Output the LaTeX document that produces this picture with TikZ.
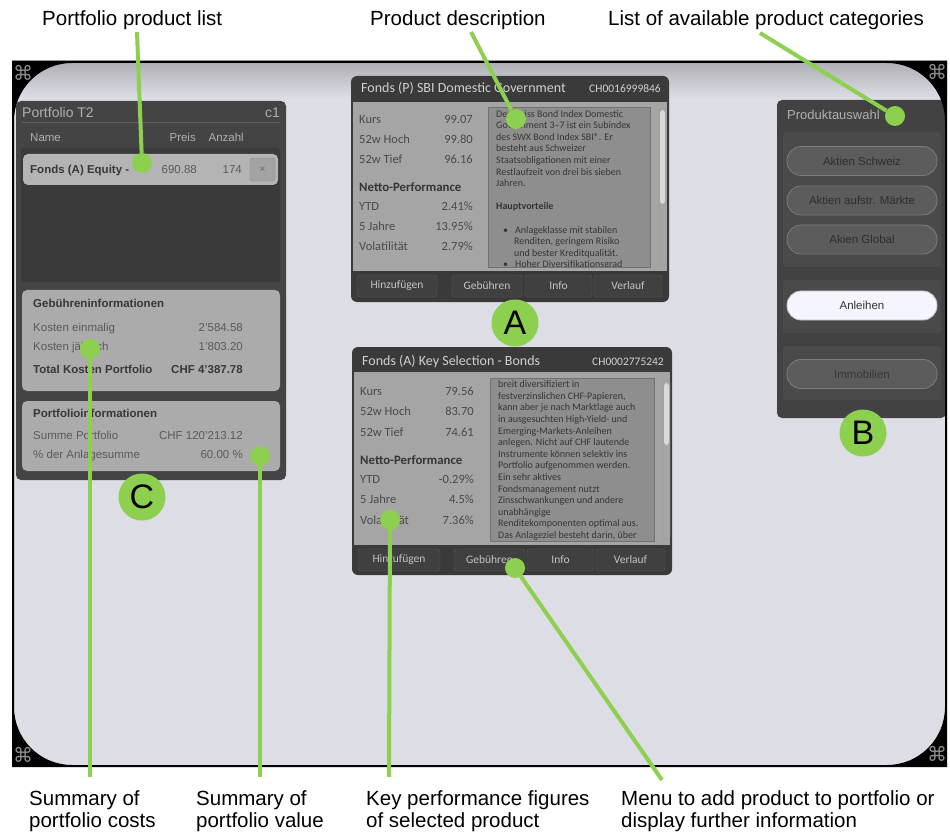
\documentclass[tikz,border=0pt]{standalone}
\usepackage{fontspec}
\setmainfont{Liberation Sans}
\newfontfamily\uifont{Carlito}
\newfontfamily\symfont{DejaVu Sans}
\definecolor{gr}{HTML}{8DD04F}
\definecolor{bgc}{HTML}{DDDDE5}
\definecolor{lpanel}{HTML}{444444}
\definecolor{linner}{HTML}{3A3A3A}
\definecolor{lrow}{HTML}{B4B4B4}
\definecolor{lcard}{HTML}{ABABAB}
\definecolor{ltxt}{HTML}{5A5A5A}
\definecolor{ldark}{HTML}{383838}
\definecolor{ltitle}{HTML}{B0B0B0}
\definecolor{pframe}{HTML}{3A3A3A}
\definecolor{pbody}{HTML}{A5A5A5}
\definecolor{pdesc}{HTML}{8E8E8E}
\definecolor{ptext}{HTML}{4A4A4A}
\definecolor{dtext}{HTML}{353535}
\definecolor{btnf}{HTML}{404040}
\definecolor{btnb}{HTML}{5A5A5A}
\definecolor{btnt}{HTML}{C4C4C4}
\definecolor{rpanel}{HTML}{424242}
\definecolor{rgroup}{HTML}{4A4A4A}
\definecolor{pill}{HTML}{5C5C5C}
\definecolor{pillb}{HTML}{7C7C7C}
\definecolor{pillt}{HTML}{2E2E2E}
\definecolor{corn}{HTML}{8C8C8C}
\begin{document}
\begin{tikzpicture}[x=1pt,y=-1pt,
  lbl/.style={anchor=base west,inner sep=0,font=\fontsize{20.5}{22.5}\selectfont,text=black},
  blbl/.style={anchor=north west,inner sep=0,align=left,font=\fontsize{20.5}{22.5}\selectfont,text=black},
  gline/.style={draw=gr,line width=4pt},
  gdot/.style={circle,fill=gr,minimum size=20pt,inner sep=0},
  gletter/.style={circle,fill=gr,minimum size=47pt,inner sep=0,font=\fontsize{34}{34}\selectfont,text=black},
  corner/.style={font=\symfont\fontsize{20}{20}\selectfont,text=corn,inner sep=0},
  ltx/.style={anchor=base west,inner sep=0,font=\fontsize{11.5}{13}\selectfont,text=ltxt},
  ltxr/.style={ltx,anchor=base east},
  lbf/.style={anchor=base west,inner sep=0,font=\bfseries\fontsize{11.5}{13}\selectfont,text=ldark},
  lbfr/.style={lbf,anchor=base east},
  lhd/.style={anchor=base west,inner sep=0,font=\fontsize{11.5}{13}\selectfont,text=ltitle},
  lhdr/.style={lhd,anchor=base east},
  plab/.style={anchor=base west,inner sep=0,font=\uifont\fontsize{12.5}{14}\selectfont,text=ptext},
  pval/.style={plab,anchor=base east},
  pbold/.style={anchor=base west,inner sep=0,font=\uifont\bfseries\fontsize{12.8}{14}\selectfont,text=dtext},
  ptitle/.style={anchor=base west,inner sep=0,font=\uifont\fontsize{14}{15}\selectfont,text=white!82!black},
  pisin/.style={anchor=base east,inner sep=0,font=\uifont\fontsize{11.5}{13}\selectfont,text=white!82!black},
  pdtxt/.style={anchor=north west,inner sep=0,align=left,font=\uifont\fontsize{10}{11.6}\selectfont,text=dtext},
  pbtn/.style={rounded corners=3pt,fill=btnf,draw=btnb,minimum height=22pt,inner sep=0,font=\uifont\fontsize{11.5}{13}\selectfont,text=btnt},
  pillbtn/.style={rounded corners=14pt,fill=pill,draw=pillb,line width=0.8pt,minimum width=150pt,minimum height=29pt,inner sep=0,font=\fontsize{11.5}{13}\selectfont,text=pillt},
]
\useasboundingbox (0,0) rectangle (950,834);
\fill[white] (0,0) rectangle (950,834);
\fill[bgc] (12,61) rectangle (947,767);
\shade[top color=bgc!78!black,bottom color=bgc] (12,61) rectangle (947,98);

% ---------- left panel ----------
\fill[lpanel,rounded corners=5pt] (16,101) rectangle (286,480);
\node[anchor=base west,inner sep=0,font=\fontsize{14}{15}\selectfont,text=ltitle] (ptitle) at (22,118) {Portfolio T2};
\node[anchor=base east,inner sep=0,font=\fontsize{14}{15}\selectfont,text=ltitle] (pc1) at (280,118) {c1};
\draw[white!38!black,line width=0.8pt] (22,122) -- (280,122);
\node[lhd] (hname) at (30,142) {Name};
\node[lhdr] (hpreis) at (196,142) {Preis};
\node[lhdr] (hanz) at (244,142) {Anzahl};
\fill[linner,rounded corners=3pt] (21,148) rectangle (280,282);
\fill[lrow,rounded corners=5pt] (23,154) rectangle (278,185);
\node[lbf] (rowname) at (30,174) {Fonds (A) Equity -};
\node[ltxr] (rowpreis) at (197,174) {690.88};
\node[ltxr] (rowanz) at (242,174) {174};
\node[rounded corners=3pt,fill=white!64!black,draw=white!52!black,minimum width=25pt,minimum height=23pt,inner sep=0,font=\fontsize{10}{11}\selectfont,text=white!40!black] (xbtn) at (262.5,169.5) {×};
\fill[lcard,rounded corners=5pt] (22,290) rectangle (280,391);
\node[lbf] (gi) at (33,308) {Gebühreninformationen};
\node[ltx] (k1) at (33,331) {Kosten einmalig};
\node[ltxr] (k1v) at (243,331) {2'584.58};
\node[ltx] (k2) at (33,350) {Kosten jährlich};
\node[ltxr] (k2v) at (243,350) {1'803.20};
\node[lbf] (k3) at (33,373) {Total Kosten Portfolio};
\node[lbfr] (k3v) at (243,373) {CHF 4'387.78};
\fill[lcard,rounded corners=5pt] (22,401) rectangle (280,471);
\node[lbf] (pi) at (33,417) {Portfolioinformationen};
\node[ltx] (s1) at (33,439) {Summe Portfolio};
\node[ltxr] (s1v) at (243,439) {CHF 120'213.12};
\node[ltx] (s2) at (33,458) {\% der Anlagesumme};
\node[ltxr] (s2v) at (243,458) {60.00 \%};

% ---------- product panel A ----------
\begin{scope}[shift={(351,76)}]
  \fill[pframe,rounded corners=6pt] (0,0) rectangle (318,226);
  \fill[pbody] (2,26) rectangle (316,195);
  \node[ptitle] (At) at (10,17) {Fonds (P) SBI Domestic Government};
  \node[pisin] (Ai) at (310,17) {CH0016999846};
  \foreach \lab/\val/\yy [count=\i] in {Kurs/99.07/48,52w Hoch/99.80/68,52w Tief/96.16/88,YTD/2.41\%/135,5 Jahre/13.95\%/155,Volatilität/2.79\%/175}
    {\node[plab] (Al\i) at (8,\yy) {\lab}; \node[pval] (Av\i) at (122,\yy) {\val};}
  \node[pbold] (An) at (8,116) {Netto-Performance};
  \fill[pdesc,draw=pdesc!80!black] (137,31) rectangle (299,191);
  \begin{scope}
    \clip (137,31) rectangle (299,191);
    \node[pdtxt] (Ad) at (145,34) {Der Swiss Bond Index Domestic\\
      Government 3–7 ist ein Subindex\\
      des SWX Bond Index SBI®. Er\\
      besteht aus Schweizer\\
      Staatsobligationen mit einer\\
      Restlaufzeit von drei bis sieben\\
      Jahren.\\[11.6pt]
      \textbf{Hauptvorteile}\\[11.6pt]
      \hspace*{7pt}•\hspace*{7pt}Anlageklasse mit stabilen\\
      \hspace*{18pt}Renditen, geringem Risiko\\
      \hspace*{18pt}und bester Kreditqualität.\\
      \hspace*{7pt}•\hspace*{7pt}Hoher Diversifikationsgrad};
  \end{scope}
  \draw[white!60!black,fill=pbody,rounded corners=3pt] (308,32) rectangle (315,190);
  \fill[white!85!black,rounded corners=3pt] (309,34) rectangle (314,128);
  \node[pbtn,minimum width=80pt] (Ab1) at (46,210) {Hinzufügen};
  \node[pbtn,minimum width=70pt] (Ab2) at (136,210) {Gebühren};
  \node[pbtn,minimum width=67pt] (Ab3) at (207.5,210) {Info};
  \node[pbtn,minimum width=68pt] (Ab4) at (277,210) {Verlauf};
\end{scope}

% ---------- product panel B ----------
\begin{scope}[shift={(352,347)}]
  \fill[pframe,rounded corners=6pt] (0,0) rectangle (320,228);
  \fill[pbody] (2,25) rectangle (318,198);
  \node[ptitle] (Bt) at (10,18) {Fonds (A) Key Selection - Bonds};
  \node[pisin] (Bi) at (312,18) {CH0002775242};
  \foreach \lab/\val/\yy [count=\i] in {Kurs/79.56/48,52w Hoch/83.70/68,52w Tief/74.61/89,YTD/-0.29\%/136,5 Jahre/4.5\%/156,Volatilität/7.36\%/177}
    {\node[plab] (Bl\i) at (8,\yy) {\lab}; \node[pval] (Bv\i) at (122,\yy) {\val};}
  \node[pbold] (Bn) at (8,117) {Netto-Performance};
  \fill[pdesc,draw=pdesc!80!black] (138,31) rectangle (302,194);
  \begin{scope}
    \clip (138,31) rectangle (302,194);
    \node[pdtxt] (Bd) at (146,33.5) {breit diversifiziert in\\
      festverzinslichen CHF-Papieren,\\
      kann aber je nach Marktlage auch\\
      in ausgesuchten High-Yield- und\\
      Emerging-Markets-Anleihen\\
      anlegen. Nicht auf CHF lautende\\
      Instrumente können selektiv ins\\
      Portfolio aufgenommen werden.\\
      Ein sehr aktives\\
      Fondsmanagement nutzt\\
      Zinsschwankungen und andere\\
      unabhängige\\
      Renditekomponenten optimal aus.\\
      Das Anlageziel besteht darin, über};
  \end{scope}
  \draw[white!60!black,fill=pbody,rounded corners=3pt] (311,33) rectangle (318,193);
  \fill[white!85!black,rounded corners=3pt] (312,36) rectangle (317,98);
  \node[pbtn,minimum width=82pt] (Bb1) at (47,213) {Hinzufügen};
  \node[pbtn,minimum width=71pt] (Bb2) at (137.5,213) {Gebühren};
  \node[pbtn,minimum width=67pt] (Bb3) at (208.5,213) {Info};
  \node[pbtn,minimum width=69pt] (Bb4) at (278.5,213) {Verlauf};
\end{scope}

% ---------- right panel ----------
\fill[rpanel,rounded corners=5pt] (777,100) rectangle (946,418);
\node[anchor=base west,inner sep=0,font=\fontsize{13}{14}\selectfont,text=ltitle] (Rt) at (787,120) {Produktauswahl};
\fill[rgroup,rounded corners=3pt] (783,132) rectangle (941,267);
\fill[rgroup,rounded corners=3pt] (783,280) rectangle (941,333);
\fill[rgroup,rounded corners=3pt] (783,346) rectangle (941,400);
\node[pillbtn] (R1) at (862,161) {Aktien Schweiz};
\node[pillbtn] (R2) at (862,200.5) {Aktien aufstr. Märkte};
\node[pillbtn] (R3) at (862,239.5) {Akien Global};
\node[pillbtn,fill=white!90!blue!40!white,draw=white!75!black,text=white!20!black] (R4) at (862,305.5) {Anleihen};
\node[pillbtn,text=white!22!black] (R5) at (862,374) {Immobilien};

% ---------- black frame mask ----------
\path[fill=black,even odd rule] (12,61) rectangle (947,767) {[rounded corners=58pt] (14,63) rectangle (945,765)};
\node[corner] (cn1) at (23,73) {⌘};
\node[corner] (cn2) at (937,72) {⌘};
\node[corner] (cn3) at (23,755) {⌘};
\node[corner] (cn4) at (937,754) {⌘};

% ---------- callouts ----------
\node[gdot] (d1) at (142,163) {};
\node[gdot] (d2) at (90,349) {};
\node[gdot] (d3) at (260,456) {};
\node[gdot] (d4) at (516,119) {};
\node[gdot] (d5) at (895,116) {};
\node[gdot] (d6) at (390,520) {};
\node[gdot] (d7) at (515,568) {};

\node[lbl] (L1) at (42,26) {Portfolio product list};
\node[lbl] (L2) at (370,26) {Product description};
\node[lbl] (L3) at (608,26) {List of available product categories};
\node[blbl] (L4) at (29,790) {Summary of\\portfolio costs};
\node[blbl] (L5) at (196,790) {Summary of\\portfolio value};
\node[blbl] (L6) at (366,790) {Key performance figures\\of selected product};
\node[blbl] (L7) at (621,790) {Menu to add product to portfolio or\\display further information};

\coordinate (c1) at (137,32);
\coordinate (c2) at (471,32);
\coordinate (c3) at (760,33);
\coordinate (c4) at (90,777);
\coordinate (c5) at (260,777);
\coordinate (c6) at (389,777);
\coordinate (c7) at (662,780);
\draw[gline] (c1) -- (d1);
\draw[gline] (c2) -- (d4);
\draw[gline] (c3) -- (d5);
\draw[gline] (d2) -- (c4);
\draw[gline] (d3) -- (c5);
\draw[gline] (d6) -- (c6);
\draw[gline] (d7) -- (c7);

\node[gletter] (LA) at (515,323) {A};
\node[gletter] (LB) at (863,433) {B};
\node[gletter] (LC) at (142,497) {C};
\end{tikzpicture}
\end{document}
